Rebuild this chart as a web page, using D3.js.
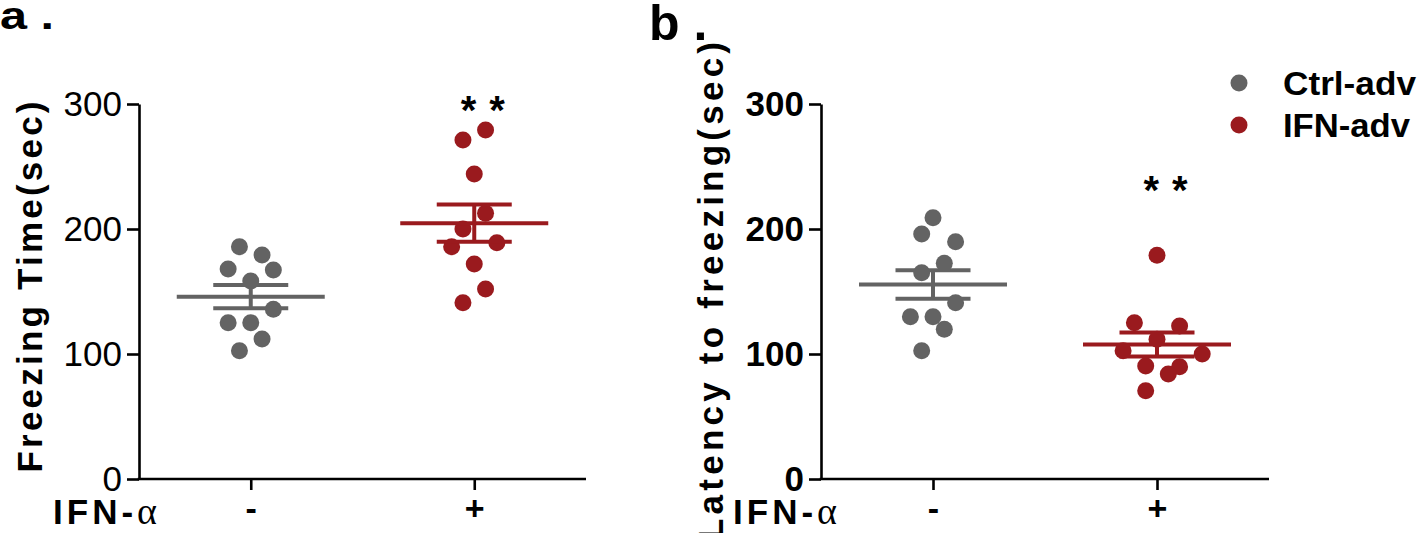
<!DOCTYPE html>
<html>
<head>
<meta charset="utf-8">
<script src="https://cdn.jsdelivr.net/npm/d3@7"></script>
<style>
  html, body { margin: 0; padding: 0; background: #fff; }
  svg { display: block; font-family: "Liberation Sans", Arial, sans-serif; }
</style>
</head>
<body>
<svg id="chart" width="1418" height="533"></svg>
<script>
// ---------- data ----------
const categories = ["-", "+"];
const groups = ["Ctrl-adv", "IFN-adv"];
const yTicks = [0, 100, 200, 300];

// panel a : Freezing Time (sec)
const ctrlA = [185.8, 179.2, 168, 167.2, 158.4, 135.8, 125, 125, 112, 102.6];
const ifnA  = [279.2, 271.2, 244, 212.6, 200, 185.8, 189, 172, 152, 141];
// panel b : Latency to freezing (sec)
const ctrlB = [209, 196, 189.8, 172.6, 165, 141, 129.8, 129.8, 119.8, 102.6];
const ifnB  = [179, 125, 122.4, 111.8, 102.6, 100, 90.4, 89.8, 84, 70.6];

// scatter jitter slots (layout of the dot swarm)
const slotsCtrlA = [-1, 1, -2, 2, 0, 2, -2, 0, 1, -1];
const slotsIfnA  = [1, -1, 0, 1, -1, -2, 2, 0, 1, -1];
const slotsCtrlB = [0, -1, 2, 1, -1, 2, -2, 0, 1, -1];
const slotsIfnB  = [0, -2, 2, 0, -3, 4, -1, 2, 1, -1];

// significance marks
const sigLabels = ["* *", "* *"];
const sigValues = [302, 238];

// ---------- style ----------
const colors = { "Ctrl-adv": "#636363", "IFN-adv": "#9a1a1e" };
const R = 8.5, STEP = 11.3;

const svg = d3.select("#chart");

function mean(a) { return d3.mean(a); }
function sem(a) { return d3.deviation(a) / Math.sqrt(a.length); }

function panel(cfg) {
  const x = d3.scalePoint().domain(categories).range(cfg.xr).padding(0.5);
  const y = d3.scaleLinear().domain([0, 300]).range([479, 104]);
  const g = svg.append("g");

  // y axis
  const ya = g.append("g").attr("transform", `translate(${cfg.xr[0]},0)`)
    .call(d3.axisLeft(y).tickValues(yTicks).tickSize(12).tickSizeOuter(0).tickPadding(5));
  ya.select(".domain").attr("stroke", "#000").attr("stroke-width", 2.6);
  ya.selectAll(".tick line").attr("stroke", "#000").attr("stroke-width", 2.6);
  ya.selectAll(".tick text").attr("font-size", 35).attr("fill", "#000")
    .attr("font-weight", cfg.tickBold ? "bold" : "normal")
    .attr("font-family", "'Liberation Sans', Arial, sans-serif");

  // x axis
  const xa = g.append("g").attr("transform", `translate(0,${y(0)})`)
    .call(d3.axisBottom(x).tickSize(11).tickSizeOuter(0));
  xa.select(".domain").attr("stroke", "#000").attr("stroke-width", 2.6)
    .attr("d", `M${cfg.xr[0] - 1.3},0H${cfg.xr[1]}`);
  xa.selectAll(".tick line").attr("stroke", "#000").attr("stroke-width", 2.6);
  xa.selectAll(".tick text").attr("font-size", 34).attr("font-weight", "bold")
    .attr("fill", "#000").attr("y", 41).attr("dy", 0)
    .attr("font-family", "'Liberation Sans', Arial, sans-serif");

  // IFN-α label
  const lab = g.append("text").attr("x", cfg.ifnX).attr("y", 524)
    .attr("font-size", 35).attr("font-weight", "bold")
    .attr("textLength", 104).attr("lengthAdjust", "spacing");
  lab.append("tspan").text("IFN-");
  lab.append("tspan").attr("font-family", "'Liberation Serif', serif")
    .attr("font-weight", "normal").attr("font-size", 38).text("α");

  // y label
  g.append("text")
    .attr("transform", `translate(${cfg.ylabX},${cfg.ylabY}) rotate(-90)`)
    .attr("text-anchor", "middle").attr("font-size", 35).attr("font-weight", "bold")
    .attr("textLength", cfg.ylabLen).attr("lengthAdjust", "spacing")
    .text(cfg.ylab);

  // data
  cfg.series.forEach(s => {
    const cx = x(s.cat);
    const col = colors[s.group];
    g.append("g").selectAll("circle").data(s.values).join("circle")
      .attr("cx", (d, i) => cx + s.slots[i] * STEP)
      .attr("cy", d => y(d)).attr("r", R).attr("fill", col);
    const m = mean(s.values), e = sem(s.values);
    const lg = g.append("g").attr("stroke", col).attr("stroke-width", 4);
    lg.append("line").attr("x1", cx - 74).attr("x2", cx + 74).attr("y1", y(m)).attr("y2", y(m));
    lg.append("line").attr("x1", cx).attr("x2", cx).attr("y1", y(m - e)).attr("y2", y(m + e));
    lg.append("line").attr("x1", cx - 37.5).attr("x2", cx + 37.5).attr("y1", y(m + e)).attr("y2", y(m + e));
    lg.append("line").attr("x1", cx - 37.5).attr("x2", cx + 37.5).attr("y1", y(m - e)).attr("y2", y(m - e));
  });

  // significance
  g.append("text").attr("x", x("+") + 8.5).attr("y", y(cfg.sig) + 22)
    .attr("text-anchor", "middle").attr("font-size", 40).attr("font-weight", "bold")
    .attr("textLength", 44).attr("lengthAdjust", "spacing")
    .text(cfg.sigLabel);
}

panel({
  xr: [139, 586], tickBold: false, ifnX: 53,
  ylab: "Freezing Time(sec)", ylabX: 42, ylabY: 287, ylabLen: 371,
  sig: sigValues[0], sigLabel: sigLabels[0],
  series: [
    { cat: "-", group: groups[0], values: ctrlA, slots: slotsCtrlA },
    { cat: "+", group: groups[1], values: ifnA, slots: slotsIfnA }
  ]
});

panel({
  xr: [821, 1269], tickBold: true, ifnX: 733,
  ylab: "Latency to freezing(sec)", ylabX: 723, ylabY: 291, ylabLen: 498,
  sig: sigValues[1], sigLabel: sigLabels[1],
  series: [
    { cat: "-", group: groups[0], values: ctrlB, slots: slotsCtrlB },
    { cat: "+", group: groups[1], values: ifnB, slots: slotsIfnB }
  ]
});

// panel letters
svg.append("text").attr("x", 0).attr("y", 29).attr("font-size", 39).attr("font-weight", "bold")
  .attr("textLength", 54).attr("lengthAdjust", "spacingAndGlyphs").text("a .");
svg.append("text").attr("x", 649).attr("y", 40).attr("font-size", 50).attr("font-weight", "bold")
  .text("b .");

// legend
const leg = svg.append("g");
groups.forEach((gname, i) => {
  const yy = [83, 125][i];
  leg.append("circle").attr("cx", 1239).attr("cy", yy).attr("r", R).attr("fill", colors[gname]);
  leg.append("text").attr("x", 1283).attr("y", yy + 12).attr("font-size", 33).attr("font-weight", "bold")
    .attr("textLength", [133, 127][i]).attr("lengthAdjust", "spacingAndGlyphs").text(gname);
});
</script>
</body>
</html>
